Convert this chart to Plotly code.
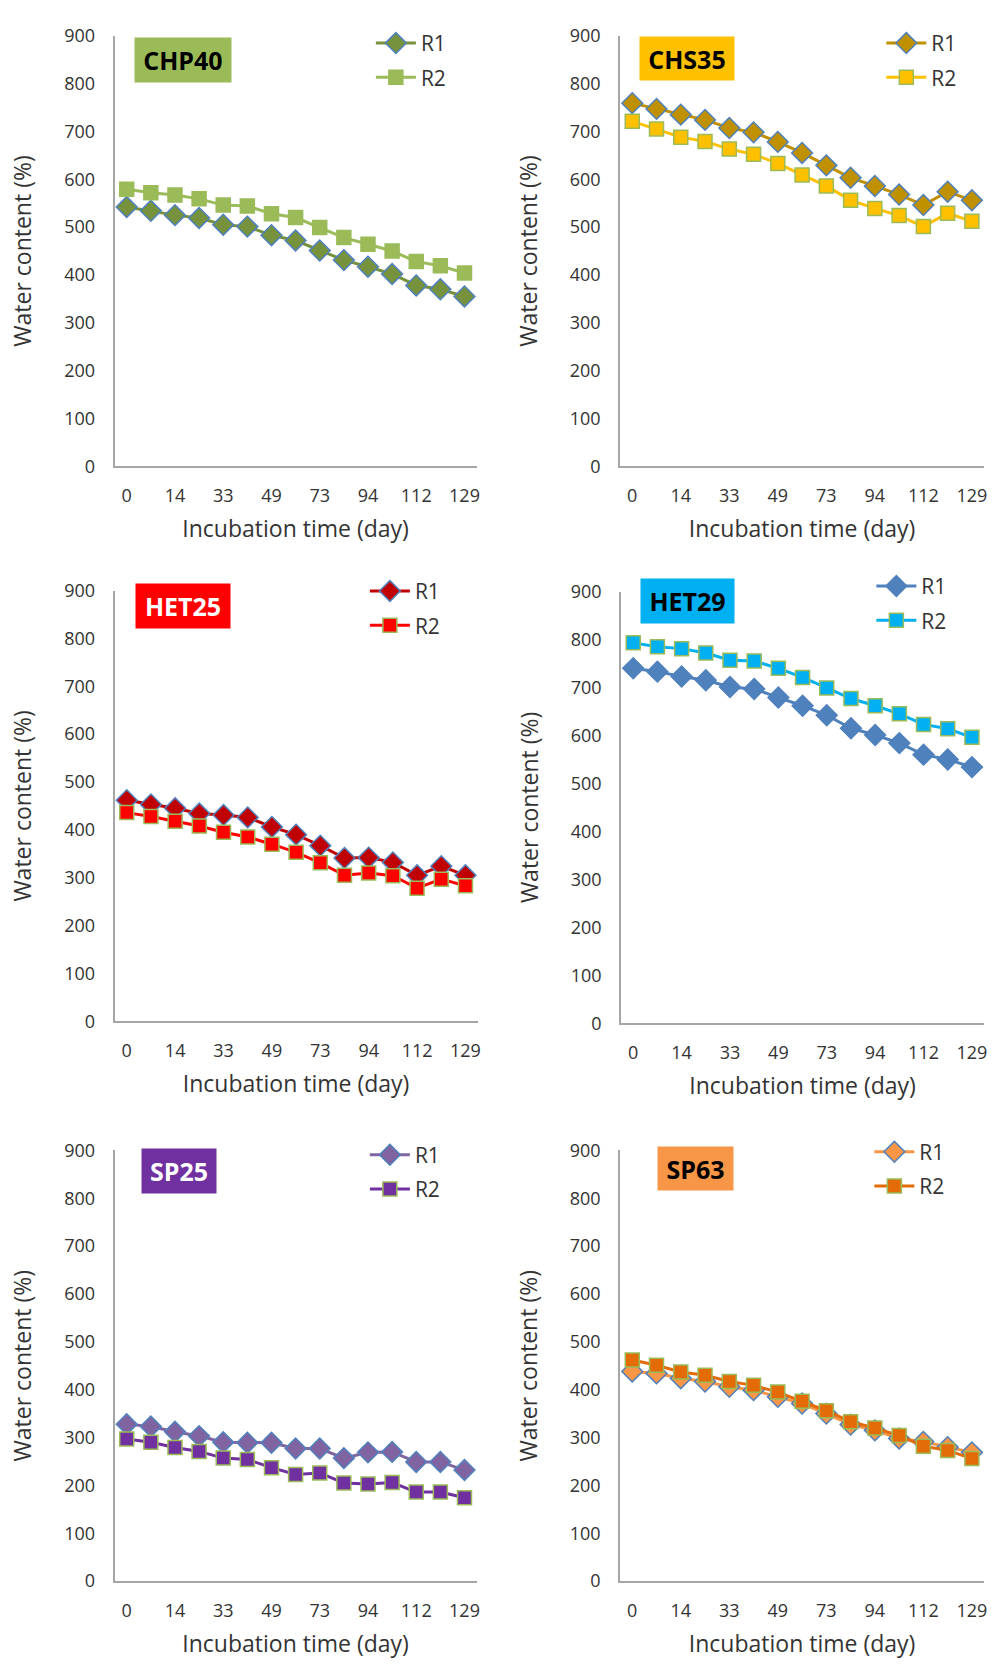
import plotly.graph_objects as go

# Incubation day categories (15 sampling dates; every other one labelled)
days = ["0", "7", "14", "21", "33", "41", "49", "61", "73", "84", "94", "103", "112", "120", "129"]
tick_days = ["0", "14", "33", "49", "73", "94", "112", "129"]

# Water content (%) per panel, replicate R1 and R2
chp40_r1 = [542, 534, 525, 519, 505, 501, 483, 472, 451, 431, 417, 402, 378, 370, 355]
chp40_r2 = [579, 572, 567, 559, 546, 544, 528, 520, 499, 478, 464, 450, 428, 419, 404]

chs35_r1 = [759, 747, 735, 724, 707, 698, 678, 655, 629, 603, 586, 568, 546, 574, 556]
chs35_r2 = [721, 705, 688, 679, 663, 652, 633, 609, 586, 556, 539, 524, 501, 529, 512]

het25_r1 = [462, 453, 445, 434, 431, 426, 406, 390, 367, 341, 342, 332, 305, 324, 305]
het25_r2 = [436, 428, 418, 408, 395, 385, 370, 353, 331, 305, 310, 304, 278, 297, 283]

het29_r1 = [740, 733, 723, 715, 701, 697, 679, 662, 642, 615, 601, 584, 560, 550, 534]
het29_r2 = [793, 785, 781, 772, 757, 755, 740, 721, 699, 677, 662, 645, 623, 614, 596]

sp25_r1 = [328, 323, 312, 303, 290, 289, 289, 277, 277, 257, 269, 270, 249, 249, 232]
sp25_r2 = [297, 290, 279, 271, 257, 254, 237, 223, 226, 205, 203, 206, 186, 186, 174]

sp63_r1 = [438, 434, 424, 417, 406, 399, 385, 371, 350, 327, 315, 298, 291, 280, 269]
sp63_r2 = [462, 451, 437, 430, 417, 409, 395, 376, 356, 333, 320, 304, 282, 273, 256]

panel_names = ["CHP40", "CHS35", "HET25", "HET29", "SP25", "SP63"]
panel_r1 = [chp40_r1, chs35_r1, het25_r1, het29_r1, sp25_r1, sp63_r1]
panel_r2 = [chp40_r2, chs35_r2, het25_r2, het29_r2, sp25_r2, sp63_r2]

# styles: (r1 line/fill, r1 outline, r2 line/fill, r2 outline, box colour, box text colour)
styles = [
    ("#76923C", "#4F81BD", "#9BBB59", "#9BBB59", "#9BBB59", "#000000"),
    ("#BF9000", "#4F81BD", "#FFC000", "#9BBB59", "#FFC000", "#000000"),
    ("#C00000", "#4F81BD", "#FF0000", "#9BBB59", "#FF0000", "#FFFFFF"),
    ("#4F81BD", "#4F81BD", "#00B0F0", "#9BBB59", "#00B0F0", "#000000"),
    ("#8064A2", "#4F81BD", "#7030A0", "#9BBB59", "#7030A0", "#FFFFFF"),
    ("#F79646", "#4F81BD", "#E36C09", "#9BBB59", "#F79646", "#000000"),
]

W, H = 995, 1667
FONT = "Open Sans"
TXT = "#333333"

# plot-area rectangles in pixels (x0, x1, y_top, y_bottom)
areas = [
    (115, 478, 23, 460),
    (622, 987, 23, 460),
    (115, 479, 586, 1023),
    (623, 987, 587, 1025),
    (115, 478, 1154, 1591),
    (622, 987, 1154, 1591),
]
# label box: centre x, centre y, width, height
boxes = [
    (184, 48, 96, 44),
    (689, 46, 94, 43),
    (184, 602, 94, 44),
    (690, 597, 93, 44),
    (180, 1175, 74, 44),
    (698, 1172, 75, 43),
]
# legend anchor (left x, top y) in pixels
legpos = [
    (372, 10),
    (884, 10),
    (366, 566),
    (874, 561),
    (366, 1138),
    (872, 1135),
]

fig = go.Figure()
layout = dict(
    width=W, height=H,
    margin=dict(l=0, r=0, t=0, b=0),
    paper_bgcolor="white", plot_bgcolor="white",
    font=dict(family=FONT, color=TXT),
    annotations=[],
)

for i in range(6):
    n = i + 1
    xa = "x" if n == 1 else f"x{n}"
    ya = "y" if n == 1 else f"y{n}"
    lg = "legend" if n == 1 else f"legend{n}"
    c1, o1, c2, o2, bc, tc = styles[i]
    fig.add_trace(go.Scatter(
        x=days, y=panel_r1[i], name="R1", mode="lines+markers",
        line=dict(color=c1, width=3),
        marker=dict(symbol="diamond", size=16, color=c1, line=dict(color=o1, width=1.5)),
        xaxis=xa, yaxis=ya, legend=lg, legendgroup=f"g{n}a",
    ))
    fig.add_trace(go.Scatter(
        x=days, y=panel_r2[i], name="R2", mode="lines+markers",
        line=dict(color=c2, width=3),
        marker=dict(symbol="square", size=14, color=c2, line=dict(color=o2, width=1.5)),
        xaxis=xa, yaxis=ya, legend=lg, legendgroup=f"g{n}b",
    ))
    x0, x1, yt, yb = areas[i]
    xkey = "xaxis" if n == 1 else f"xaxis{n}"
    ykey = "yaxis" if n == 1 else f"yaxis{n}"
    layout[xkey] = dict(
        domain=[x0 / W, x1 / W], anchor=ya, type="category",
        categoryorder="array", categoryarray=days,
        range=[-0.5, 14.5], tickvals=tick_days, ticks="",
        showline=True, linecolor="#A6A6A6", linewidth=2, showgrid=False, zeroline=False,
        tickfont=dict(size=18, family=FONT, color=TXT), ticklabelstandoff=12,
        title=dict(text="Incubation time (day)", font=dict(size=23, family=FONT, color=TXT), standoff=15),
        fixedrange=True,
    )
    layout[ykey] = dict(
        domain=[1 - yb / H, 1 - yt / H], anchor=xa,
        range=[0, 900], dtick=100, ticks="",
        showline=True, linecolor="#A6A6A6", linewidth=2, showgrid=False, zeroline=False,
        tickfont=dict(size=18, family=FONT, color=TXT), ticklabelstandoff=14,
        title=dict(text="Water content (%)", font=dict(size=23, family=FONT, color=TXT), standoff=26),
        fixedrange=True,
    )
    lx, ly = legpos[i]
    layout[lg] = dict(
        x=lx / W, y=1 - ly / H, xanchor="left", yanchor="top",
        bgcolor="rgba(0,0,0,0)", font=dict(size=21, family=FONT, color=TXT),
        tracegroupgap=4, itemwidth=40,
    )
    bx, by, bw, bh = boxes[i]
    layout["annotations"].append(dict(
        text=f"<b>{panel_names[i]}</b>", x=bx / W, y=1 - by / H, xref="paper", yref="paper",
        xanchor="center", yanchor="middle", showarrow=False,
        width=bw, height=bh, bgcolor=bc, borderpad=0,
        font=dict(size=25, family=FONT, color=tc),
    ))

fig.update_layout(**layout)
fig.write_html(
    "out.html",
    config={"displayModeBar": False},
    post_script="document.body.style.margin='0px';document.body.style.padding='0px';",
)
